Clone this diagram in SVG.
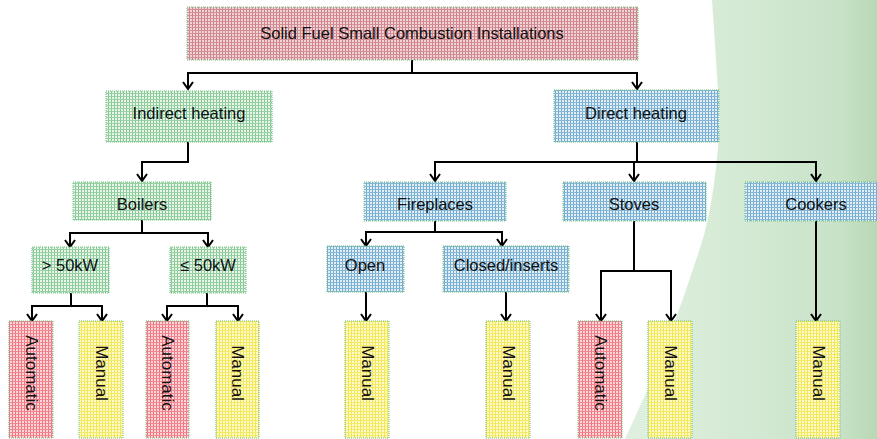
<svg xmlns="http://www.w3.org/2000/svg" width="877" height="439" viewBox="0 0 877 439">
<defs>
<linearGradient id="bg" x1="0" y1="0" x2="1" y2="0">
<stop offset="0" stop-color="#e0f0e0"/>
<stop offset="0.5" stop-color="#d3e9d3"/>
<stop offset="0.85" stop-color="#c8e2c8"/>
<stop offset="1" stop-color="#b9d8b5"/>
</linearGradient>
<pattern id="pRed" width="3" height="3" patternUnits="userSpaceOnUse">
<rect width="3" height="3" fill="#f1d4d7"/><rect width="1" height="3" fill="#cc8088"/><rect width="3" height="1" fill="#d48e95"/>
</pattern>
<pattern id="pAuto" width="3" height="3" patternUnits="userSpaceOnUse">
<rect width="3" height="3" fill="#fdd8db"/><rect width="1" height="3" fill="#f27480"/><rect width="3" height="1" fill="#f4858f"/>
</pattern>
<pattern id="pGreen" width="3" height="3" patternUnits="userSpaceOnUse">
<rect width="3" height="3" fill="#eaf6ec"/><rect width="1" height="3" fill="#85c894"/><rect width="3" height="1" fill="#96d0a3"/>
</pattern>
<pattern id="pBlue" width="3" height="3" patternUnits="userSpaceOnUse">
<rect width="3" height="3" fill="#e2eff7"/><rect width="1" height="3" fill="#71a9cf"/><rect width="3" height="1" fill="#86b7d7"/>
</pattern>
<pattern id="pYel" width="3" height="3" patternUnits="userSpaceOnUse">
<rect width="3" height="3" fill="#fffad0"/><rect width="1" height="3" fill="#f1e54e"/><rect width="3" height="1" fill="#f5ea66"/>
</pattern>
<marker id="arr" markerUnits="userSpaceOnUse" markerWidth="14" markerHeight="14" viewBox="0 0 14 14" refX="10" refY="7" orient="auto">
<path d="M3,2 L10,7 L3,12" fill="none" stroke="#000" stroke-width="2"/>
</marker>
</defs>
<style>
.box{stroke:#6cbf7e;stroke-width:1;stroke-dasharray:1 1}
.r{fill:url(#pRed)}
.a{fill:url(#pAuto)}
.g{fill:url(#pGreen)}
.b{fill:url(#pBlue)}
.y{fill:url(#pYel)}
text{font-family:"Liberation Sans",Arial,sans-serif;font-size:16.5px;fill:#111;text-anchor:middle;dominant-baseline:central}
.v{font-size:17px}
.c{fill:none;stroke:#000;stroke-width:2}
</style>
<rect width="877" height="439" fill="#fff"/>
<path d="M712,0 L720,120 Q716,190 704,235 Q672,340 625,439 L877,439 L877,0 Z" fill="url(#bg)"/>

<g id="connectors" class="c">
<path class="c" d="M412,60 V73 H188 V89" marker-end="url(#arr)"/>
<path class="c" d="M412,73 H637 V89" marker-end="url(#arr)"/>
<path class="c" d="M188,142 V162 H142 V181" marker-end="url(#arr)"/>
<path class="c" d="M637,142 V162 H435 V181" marker-end="url(#arr)"/>
<path class="c" d="M637,162 H816 V181" marker-end="url(#arr)"/>
<path class="c" d="M634,162 V181" marker-end="url(#arr)"/>
<path class="c" d="M142,220 V233 H70 V247" marker-end="url(#arr)"/>
<path class="c" d="M142,233 H208 V247" marker-end="url(#arr)"/>
<path class="c" d="M71,293 V306 H32 V321" marker-end="url(#arr)"/>
<path class="c" d="M71,306 H102 V321" marker-end="url(#arr)"/>
<path class="c" d="M207,293 V306 H167 V321" marker-end="url(#arr)"/>
<path class="c" d="M207,306 H238 V321" marker-end="url(#arr)"/>
<path class="c" d="M435,221 V232 H366 V246" marker-end="url(#arr)"/>
<path class="c" d="M435,232 H502 V246" marker-end="url(#arr)"/>
<path class="c" d="M366,292 V321" marker-end="url(#arr)"/>
<path class="c" d="M506,292 V321" marker-end="url(#arr)"/>
<path class="c" d="M634,221 V271 H601 V321" marker-end="url(#arr)"/>
<path class="c" d="M634,271 H671 V321" marker-end="url(#arr)"/>
<path class="c" d="M816,221 V321" marker-end="url(#arr)"/>
</g>

<g id="root"><rect class="box r" x="187" y="7" width="451" height="53"/><text x="412" y="33">Solid Fuel Small Combustion Installations</text></g>
<g id="indirect"><rect class="box g" x="106" y="91" width="166" height="51"/><text x="189" y="113">Indirect heating</text></g>
<g id="direct"><rect class="box b" x="554" y="90" width="165" height="52"/><text x="636" y="113">Direct heating</text></g>
<g id="boilers"><rect class="box g" x="73" y="182" width="138" height="38"/><text x="142" y="204">Boilers</text></g>
<g id="fireplaces"><rect class="box b" x="364" y="182" width="142" height="39"/><text x="435" y="204">Fireplaces</text></g>
<g id="stoves"><rect class="box b" x="563" y="182" width="143" height="39"/><text x="634" y="204">Stoves</text></g>
<g id="cookers"><rect class="box b" x="745" y="182" width="142" height="39"/><text x="816" y="204">Cookers</text></g>
<g id="gt50"><rect class="box g" x="32" y="247" width="77" height="46"/><text x="70" y="265">&gt; 50kW</text></g>
<g id="le50"><rect class="box g" x="170" y="247" width="76" height="46"/><text x="208" y="265">≤ 50kW</text></g>
<g id="open"><rect class="box b" x="327" y="246" width="77" height="46"/><text x="365" y="265">Open</text></g>
<g id="closed"><rect class="box b" x="443" y="246" width="126" height="46"/><text x="506" y="265">Closed/inserts</text></g>

<g id="auto1"><rect class="box a" x="9" y="321" width="44" height="117"/><text class="v" transform="translate(31,373) rotate(90)">Automatic</text></g>
<g id="man1"><rect class="box y" x="79" y="321" width="44" height="117"/><text class="v" transform="translate(101,373) rotate(90)">Manual</text></g>
<g id="auto2"><rect class="box a" x="146" y="321" width="43" height="117"/><text class="v" transform="translate(167,373) rotate(90)">Automatic</text></g>
<g id="man2"><rect class="box y" x="216" y="321" width="43" height="117"/><text class="v" transform="translate(237,373) rotate(90)">Manual</text></g>
<g id="man3"><rect class="box y" x="345" y="321" width="44" height="117"/><text class="v" transform="translate(367,373) rotate(90)">Manual</text></g>
<g id="man4"><rect class="box y" x="486" y="321" width="44" height="117"/><text class="v" transform="translate(508,373) rotate(90)">Manual</text></g>
<g id="auto3"><rect class="box a" x="578" y="321" width="44" height="117"/><text class="v" transform="translate(600,373) rotate(90)">Automatic</text></g>
<g id="man5"><rect class="box y" x="648" y="321" width="44" height="117"/><text class="v" transform="translate(670,373) rotate(90)">Manual</text></g>
<g id="man6"><rect class="box y" x="796" y="321" width="44" height="117"/><text class="v" transform="translate(818,373) rotate(90)">Manual</text></g>
</svg>
